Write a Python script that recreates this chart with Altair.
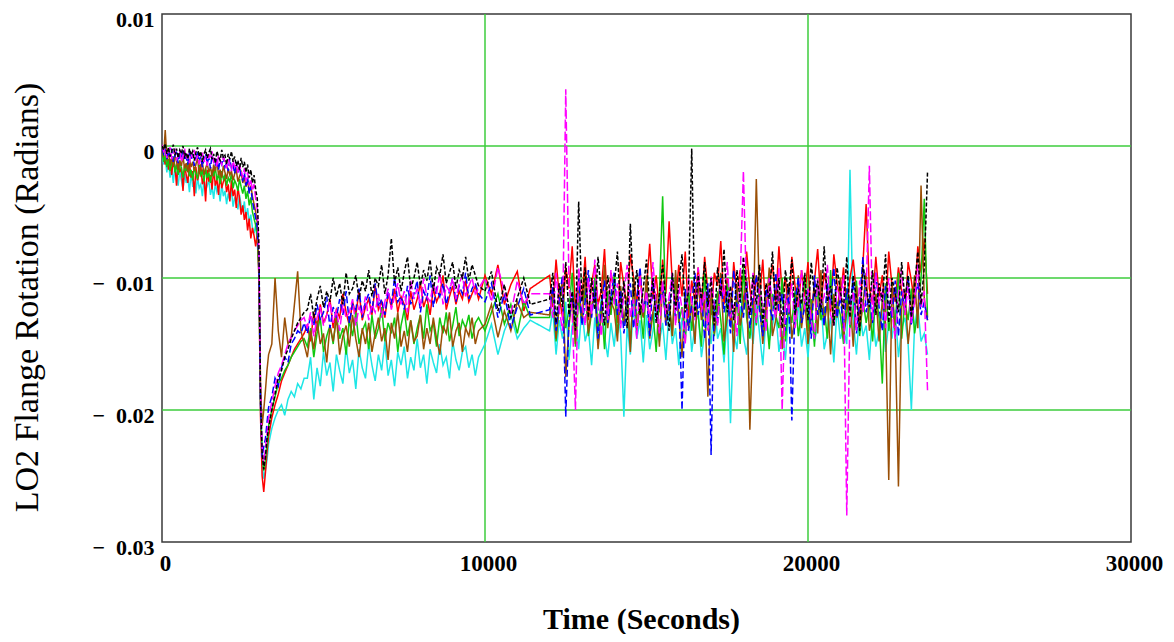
import altair as alt
import pandas as pd

# Sampling times (s)
time_s = [
    0, 50, 100, 150, 200, 250, 300, 350, 400, 450,
    500, 550, 600, 650, 700, 750, 800, 850, 900, 950,
    1000, 1050, 1100, 1150, 1200, 1250, 1300, 1350, 1400, 1450,
    1500, 1550, 1600, 1650, 1700, 1750, 1800, 1850, 1900, 1950,
    2000, 2050, 2100, 2150, 2200, 2250, 2300, 2350, 2400, 2450,
    2500, 2550, 2600, 2650, 2700, 2750, 2800, 2850, 2900, 2950, 3000,
    3050, 3100, 3150, 3200, 3250, 3300, 3400, 3500, 3600, 3700, 3800, 3900, 4000, 4100, 4200, 4300, 4400,
    4500, 4600, 4700, 4800, 4900, 5000, 5100, 5200, 5300, 5400,
    5500, 5600, 5700, 5800, 5900, 6000, 6100, 6200, 6300, 6400,
    6500, 6600, 6700, 6800, 6900, 7000, 7100, 7200, 7300, 7400,
    7500, 7600, 7700, 7800, 7900, 8000, 8100, 8200, 8300, 8400,
    8500, 8600, 8700, 8800, 8900, 9000, 9100, 9200, 9300, 9400,
    9500, 9600, 9700, 9800,
    10000, 10200, 10400, 10600, 10800, 11000, 11200, 11400,
    12000, 12100, 12200, 12300, 12400, 12500, 12600, 12700, 12800, 12900,
    13000, 13100, 13200, 13300, 13400, 13500, 13600, 13700, 13800, 13900,
    14000, 14100, 14200, 14300, 14400, 14500, 14600, 14700, 14800, 14900,
    15000, 15100, 15200, 15300, 15400, 15500, 15600, 15700, 15800, 15900,
    16000, 16100, 16200, 16300, 16400, 16500, 16600, 16700, 16800, 16900,
    17000, 17100, 17200, 17300, 17400, 17500, 17600, 17700, 17800, 17900,
    18000, 18100, 18200, 18300, 18400, 18500, 18600, 18700, 18800, 18900,
    19000, 19100, 19200, 19300, 19400, 19500, 19600, 19700, 19800, 19900,
    20000, 20100, 20200, 20300, 20400, 20500, 20600, 20700, 20800, 20900,
    21000, 21100, 21200, 21300, 21400, 21500, 21600, 21700, 21800, 21900,
    22000, 22100, 22200, 22300, 22400, 22500, 22600, 22700, 22800, 22900,
    23000, 23100, 23200, 23300, 23400, 23500, 23600, 23700,
]

# Flange rotation readings, in units of 1e-4 rad
black_vals = [
    0, -3, 2, -6, -1, -8, -4, 1, -7, -2,
    -9, -3, -6, 0, -8, -5, -10, -2, -7, -4,
    -11, -5, -1, -8, -4, -12, -6, -3, -9, -5,
    -2, -10, -6, -13, -4, -8, -11, -3, -9, -7,
    -14, -6, -10, -4, -12, -8, -15, -11, -18, -9,
    -16, -12, -20, -14, -24, -18, -28, -22, -33, -40, -75,
    -190, -232, -245, -236, -222, -214, -200, -188, -176, -170, -160, -154, -146, -140, -134, -130, -126,
    -124, -112, -130, -116, -106, -122, -110, -118, -100, -114,
    -104, -120, -96, -112, -108, -98, -116, -102, -110, -94,
    -114, -100, -106, -90, -112, -98, -70, -104, -92, -110,
    -96, -84, -108, -100, -88, -106, -94, -102, -86, -110,
    -92, -98, -82, -104, -96, -88, -108, -94, -100, -84,
    -102, -90, -98, -106,
    -110, -95, -125, -105, -130, -115, -100, -120,
    -116, -96, -134, -104, -122, -88, -128, -110, -140, -42,
    -118, -92, -130, -100, -124, -84, -112, -136, -98, -120,
    -106, -80, -126, -102, -138, -59, -114, -94, -128, -108,
    -86, -122, -100, -134, -112, -90, -118, -140, -96, -124,
    -104, -82, -126, -110, -2, -130, -98, -116, -88, -122,
    -100, -136, -92, -114, -78, -126, -106, -132, -94, -118,
    -84, -110, -128, -98, -120, -90, -134, -104, -116, -80,
    -124, -100, -138, -94, -112, -86, -128, -108, -120, -96,
    -132, -88, -114, -102, -126, -76, -118, -106, -136, -92,
    -110, -124, -84, -130, -98, -116, -140, -90, -108, -122,
    -94, -128, -104, -118, -82, -134, -100, -112, -126, -88,
    -116, -98, -130, -106, -80, -120, -92, -20,
]
red_vals = [
    -3, -8, -14, -6, -18, -10, -22, -9, -15, -30,
    -12, -20, -16, -34, -14, -22, -28, -13, -24, -19,
    -38, -16, -26, -21, -14, -29, -23, -42, -18, -27,
    -22, -33, -17, -30, -25, -37, -20, -32, -27, -24,
    -35, -29, -42, -26, -38, -33, -47, -31, -40, -52,
    -45, -56, -50, -64, -55, -70, -62, -68, -76, -66, -100,
    -205, -250, -262, -248, -232, -220, -206, -196, -188, -178, -172, -166, -160, -154, -150, -146, -142,
    -136, -148, -126, -140, -120, -134, -128, -116, -138, -124,
    -130, -112, -126, -136, -118, -128, -110, -132, -122, -116,
    -128, -106, -124, -118, -130, -112, -122, -108, -126, -114,
    -120, -132, -110, -124, -116, -104, -122, -114, -128, -108,
    -118, -112, -98, -124, -114, -106, -120, -110, -116, -102,
    -118, -112, -106, -116,
    -98, -112, -90, -120, -105, -95, -125, -108,
    -98, -122, -86, -114, -130, -92, -108, -76, -124, -100,
    -116, -84, -132, -104, -90, -120, -110, -78, -126, -96,
    -112, -134, -88, -106, -122, -82, -100, -118, -94, -128,
    -108, -74, -116, -98, -126, -86, -112, -57, -104, -120,
    -90, -114, -80, -130, -102, -118, -92, -124, -84, -110,
    -128, -96, -106, -72, -120, -100, -134, -88, -112, -94,
    -122, -80, -108, -126, -98, -116, -86, -130, -104, -90,
    -118, -76, -112, -100, -128, -84, -106, -122, -94, -114,
    -88, -132, -102, -78, -120, -96, -110, -126, -82, -104,
    -116, -92, -124, -100, -86, -112, -130, -90, -44, -108,
    -120, -84, -114, -98, -126, -80, -106, -118, -92, -110,
    -128, -88, -102, -120, -76, -96, -70, -112,
]
blue_vals = [
    -1, -6, -3, -10, -4, -8, -2, -12, -7, -5,
    -13, -6, -9, -3, -11, -8, -14, -5, -10, -7,
    -15, -9, -4, -12, -8, -16, -10, -6, -13, -9,
    -17, -7, -12, -15, -9, -18, -11, -14, -8, -16,
    -13, -19, -10, -17, -14, -21, -12, -20, -16, -23,
    -26, -20, -30, -24, -36, -31, -42, -48, -55, -62, -85,
    -195, -236, -228, -222, -210, -198, -190, -176, -182, -168, -160, -164, -150, -146, -140, -142, -134,
    -142, -128, -136, -120, -132, -126, -114, -138, -122, -130,
    -116, -128, -110, -134, -120, -124, -108, -130, -118, -112,
    -126, -104, -122, -116, -128, -110, -120, -100, -118, -114,
    -124, -106, -120, -112, -102, -126, -110, -116, -98, -122,
    -108, -114, -104, -120, -110, -100, -118, -106, -112, -96,
    -116, -108, -104, -112,
    -118, -104, -130, -112, -138, -122, -108, -128,
    -124, -106, -140, -116, -98, -205, -132, -112, -128, -100,
    -136, -118, -94, -130, -108, -146, -122, -102, -134, -114,
    -96, -128, -110, -142, -120, -104, -138, -116, -92, -126,
    -112, -144, -100, -130, -118, -106, -136, -124, -98, -132,
    -114, -200, -108, -140, -120, -96, -128, -112, -146, -104,
    -234, -118, -134, -100, -126, -110, -142, -94, -122, -116,
    -130, -102, -138, -114, -98, -124, -144, -108, -120, -132,
    -96, -126, -112, -140, -106, -208, -118, -100, -134, -122,
    -110, -146, -98, -128, -116, -136, -104, -120, -92, -130,
    -114, -138, -108, -124, -100, -142, -118, -84, -126, -112,
    -134, -96, -122, -140, -106, -118, -130, -102, -144, -110,
    -124, -98, -136, -114, -104, -128, -118, -132,
]
green_vals = [
    -5, -12, -7, -16, -10, -19, -13, -8, -20, -14,
    -22, -11, -17, -24, -15, -19, -12, -23, -18, -26,
    -16, -21, -25, -14, -22, -19, -27, -17, -24, -20,
    -28, -18, -23, -16, -26, -21, -29, -19, -25, -22,
    -30, -24, -27, -21, -32, -26, -29, -34, -25, -31,
    -36, -30, -40, -34, -45, -39, -50, -55, -60, -68, -95,
    -192, -230, -246, -238, -226, -212, -200, -190, -180, -176, -170, -166, -160, -156, -152, -148, -146,
    -152, -138, -160, -142, -130, -156, -144, -136, -150, -128,
    -146, -138, -158, -132, -144, -126, -150, -140, -134, -154,
    -128, -146, -138, -122, -148, -134, -142, -130, -156, -136,
    -124, -144, -132, -150, -138, -128, -146, -120, -140, -134,
    -152, -130, -142, -126, -148, -136, -122, -144, -132, -138,
    -128, -146, -134, -130,
    -140, -126, -112, -135, -120, -142, -118, -130,
    -130, -112, -148, -120, -104, -138, -124, -96, -152, -116,
    -134, -108, -144, -126, -100, -140, -118, -154, -110, -128,
    -98, -142, -122, -136, -114, -150, -106, -132, -120, -146,
    -104, -138, -126, -156, -112, -38, -130, -118, -144, -100,
    -134, -122, -148, -108, -140, -116, -128, -152, -96, -136,
    -120, -144, -110, -132, -158, -104, -126, -140, -114, -150,
    -92, -130, -146, -118, -136, -106, -142, -124, -154, -112,
    -128, -138, -100, -148, -120, -134, -110, -144, -126, -98,
    -140, -116, -152, -106, -132, -122, -146, -94, -136, -118,
    -128, -150, -108, -138, -124, -102, -144, -116, -134, -120,
    -148, -112, -130, -180, -104, -140, -122, -136, -96, -146,
    -118, -132, -108, -142, -126, -100, -40, -130,
]
magenta_vals = [
    1, -4, -2, -9, -5, -1, -10, -6, -3, -11,
    -7, -4, -12, -8, -2, -10, -6, -13, -5, -9,
    -3, -11, -7, -14, -9, -5, -12, -8, -15, -6,
    -10, -4, -13, -9, -16, -7, -11, -14, -8, -12,
    -17, -10, -14, -19, -11, -16, -13, -21, -15, -18,
    -24, -17, -27, -20, -30, -25, -34, -29, -40, -48, -80,
    -185, -228, -240, -230, -218, -206, -194, -182, -172, -166, -158, -150, -145, -140, -136, -132, -130,
    -138, -126, -144, -130, -122, -136, -128, -118, -134, -124,
    -140, -120, -130, -126, -116, -136, -122, -128, -114, -132,
    -120, -126, -112, -130, -118, -108, -124, -114, -104, -120,
    -110, -126, -102, -116, -108, -122, -100, -114, -118, -104,
    -112, -96, -120, -106, -110, -100, -116, -104, -98, -114,
    -106, -100, -112, -108,
    -100, -118, -92, -110, -128, -102, -120, -112,
    -112, -130, -96, -124, -140, 43, -104, -126, -200, -92,
    -118, -136, -100, -128, -86, -122, -144, -108, -132, -94,
    -120, -104, -138, -112, -90, -130, -116, -146, -98, -126,
    -110, -134, -88, -120, -142, -102, -128, -114, -96, -136,
    -106, -124, -150, -100, -118, -132, -92, -126, -110, -140,
    -98, -122, -136, -104, -114, -88, -130, -120, -144, -102,
    -19, -116, -128, -96, -134, -108, -122, -140, -100, -118,
    -130, -92, -200, -112, -126, -104, -138, -116, -94, -124,
    -108, -132, -146, -100, -120, -114, -90, -128, -136, -106,
    -118, -98, -280, -124, -110, -140, -102, -126, -114, -15,
    -132, -96, -120, -108, -138, -100, -124, -146, -112, -94,
    -128, -106, -134, -118, -90, -122, -110, -185,
]
cyan_vals = [
    -6, -14, -9, -20, -12, -24, -17, -28, -15, -22,
    -30, -19, -26, -33, -21, -28, -24, -35, -20, -31,
    -27, -36, -23, -32, -29, -38, -25, -34, -30, -26,
    -37, -31, -40, -28, -35, -32, -42, -29, -38, -34,
    -44, -36, -41, -33, -46, -39, -43, -48, -37, -45,
    -50, -42, -55, -47, -58, -52, -62, -66, -60, -72, -95,
    -200, -240, -252, -246, -238, -226, -214, -206, -200, -196, -204, -192, -186, -190, -180, -184, -176,
    -176, -160, -192, -168, -182, -156, -174, -164, -186, -158,
    -170, -180, -152, -172, -162, -184, -154, -168, -176, -150,
    -166, -178, -158, -170, -148, -174, -162, -182, -156, -166,
    -152, -176, -160, -170, -146, -168, -158, -180, -154, -164,
    -172, -150, -166, -160, -176, -148, -162, -170, -156, -152,
    -168, -158, -174, -160,
    -150, -135, -158, -140, -128, -146, -138, -132,
    -140, -124, -158, -132, -146, -118, -162, -136, -128, -154,
    -122, -148, -138, -166, -130, -150, -116, -144, -160, -134,
    -152, -126, -142, -205, -136, -158, -120, -146, -132, -164,
    -128, -154, -140, -118, -148, -134, -162, -124, -150, -138,
    -166, -130, -144, -120, -156, -136, -126, -160, -142, -132,
    -150, -116, -146, -138, -164, -128, -210, -140, -154, -122,
    -144, -158, -132, -150, -118, -142, -166, -130, -148, -136,
    -124, -156, -140, -162, -128, -146, -134, -120, -152, -138,
    -160, -126, -148, -136, -116, -154, -142, -130, -164, -122,
    -146, -138, -150, -18, -132, -158, -124, -144, -136, -162,
    -128, -152, -140, -118, -156, -134, -146, -124, -160, -138,
    -130, -150, -200, -136, -122, -148, -142, -158,
]
brown_vals = [
    -3, -8, 12, -10, -5, -14, -9, -16, -7, -12,
    -18, -11, -15, -8, -17, -13, -20, -10, -16, -12,
    -19, -14, -9, -21, -15, -12, -22, -17, -13, -20,
    -16, -23, -14, -19, -11, -22, -18, -24, -15, -20,
    -25, -17, -22, -19, -26, -21, -18, -27, -23, -20,
    -28, -24, -31, -26, -35, -30, -38, -44, -50, -58, -90,
    -180, -212, -200, -186, -170, -158, -150, -100, -140, -160, -130, -150, -145, -120, -95, -140, -150,
    -160, -140, -154, -132, -150, -142, -164, -136, -148, -130,
    -158, -144, -136, -152, -128, -146, -160, -138, -150, -134,
    -156, -142, -130, -148, -138, -162, -134, -146, -126, -152,
    -140, -156, -132, -148, -144, -128, -154, -138, -150, -130,
    -146, -158, -136, -142, -126, -152, -140, -134, -156, -138,
    -144, -130, -150, -140,
    -135, -120, -145, -125, -140, -118, -130, -126,
    -128, -110, -146, -120, -100, -175, -136, -116, -150, -104,
    -132, -96, -142, -122, -110, -154, -128, -90, -138, -118,
    -124, -148, -106, -134, -114, -156, -100, -140, -120, -130,
    -98, -146, -126, -112, -152, -104, -136, -118, -144, -94,
    -128, -160, -110, -138, -120, -150, -102, -132, -116, -190,
    -108, -142, -124, -96, -148, -130, -114, -156, -106, -136,
    -122, -100, -215, -140, -25, -118, -150, -126, -92, -144,
    -132, -110, -154, -120, -104, -146, -128, -98, -138, -116,
    -150, -124, -108, -142, -94, -136, -118, -158, -112, -130,
    -100, -146, -126, -114, -152, -106, -138, -120, -96, -140,
    -128, -112, -148, -118, -134, -253, -104, -142, -258, -122,
    -110, -150, -126, -98, -138, -30, -116, -132,
]

# Drawing order (bottom to top) and trace styles
series_order = ["cyan", "red", "green", "brown", "blue", "magenta", "black"]
series_values = {
    "cyan": cyan_vals, "green": green_vals, "brown": brown_vals, "red": red_vals,
    "blue": blue_vals, "magenta": magenta_vals, "black": black_vals,
}
series_color = {
    "cyan": "#1ee6e6", "green": "#10c810", "brown": "#9a4f06", "red": "#ff0000",
    "blue": "#0000ff", "magenta": "#ff00ff", "black": "#000000",
}
series_dash = {
    "cyan": [1, 0], "green": [1, 0], "brown": [1, 0], "red": [1, 0],
    "blue": [7, 3], "magenta": [9, 3], "black": [4, 2],
}

grid_x = [10000, 20000]
grid_y = [0.0, -0.01, -0.02]
x_ticks = [0, 10000, 20000, 30000]
y_ticks = [-0.03, -0.02, -0.01, 0.0, 0.01]

rows = []
for name in series_order:
    vals = series_values[name]
    assert len(vals) == len(time_s), (name, len(vals), len(time_s))
    for t, v in zip(time_s, vals):
        rows.append({"series": name, "t": t, "rot": v / 10000.0})
df = pd.DataFrame(rows)

x_scale = alt.Scale(domain=[0, 30000], nice=False, zero=False)
y_scale = alt.Scale(domain=[-0.03, 0.01], nice=False, zero=False)

x_axis = alt.Axis(
    title="Time (Seconds)", values=x_ticks, format="d", grid=False, domain=False, ticks=False,
    labelFont="Liberation Serif", labelFontWeight="bold", labelFontSize=23, labelColor="#000000",
    labelPadding=10, labelOffset=3, labelFlush=False, labelOverlap=False,
    titleFont="Liberation Serif", titleFontWeight="bold", titleFontSize=30, titleColor="#000000",
    titleX=479, titleY=86, titleBaseline="alphabetic", titleAlign="center",
)
y_axis = alt.Axis(
    title="LO2 Flange Rotation (Radians)", values=y_ticks, grid=False, domain=False, ticks=False,
    labelExpr="datum.value == 0 ? '0' : (datum.value < 0 ? '\u2212\u2002' + format(-datum.value, '.2f') : format(datum.value, '.2f'))",
    labelFont="Liberation Serif", labelFontWeight="bold", labelFontSize=22, labelColor="#000000",
    labelPadding=8, labelOffset=5, labelFlush=False, labelOverlap=False,
    titleFont="Liberation Serif", titleFontWeight="normal", titleFontSize=34, titleColor="#000000",
    titleX=-125, titleY=283, titleAngle=270, titleBaseline="alphabetic", titleAlign="center",
)

grid_color = "#3ccc3c"
vgrid = alt.Chart(pd.DataFrame({"t": grid_x})).mark_rule(color=grid_color, strokeWidth=1.5).encode(
    x=alt.X("t:Q", scale=x_scale, axis=x_axis)
)
hgrid = alt.Chart(pd.DataFrame({"rot": grid_y})).mark_rule(color=grid_color, strokeWidth=1.5).encode(
    y=alt.Y("rot:Q", scale=y_scale, axis=y_axis)
)

line_layers = []
for name in series_order:
    line_layers.append(
        alt.Chart(df)
        .transform_filter(alt.datum.series == name)
        .mark_line(color=series_color[name], strokeWidth=1.5, strokeDash=series_dash[name], clip=True)
        .encode(
            x=alt.X("t:Q", scale=x_scale, axis=x_axis),
            y=alt.Y("rot:Q", scale=y_scale, axis=y_axis),
            order="t:Q",
        )
    )

chart = (
    alt.layer(vgrid, hgrid, *line_layers)
    .properties(
        width=969, height=528,
        autosize=alt.AutoSizeParams(type="none"),
        padding={"left": 154, "top": 6, "right": 35, "bottom": 92},
        background="#ffffff",
    )
    .configure_view(stroke="#3a3a3a", strokeWidth=1.5)
)

chart.save("out.html", embed_options={"renderer": "svg", "actions": False})
